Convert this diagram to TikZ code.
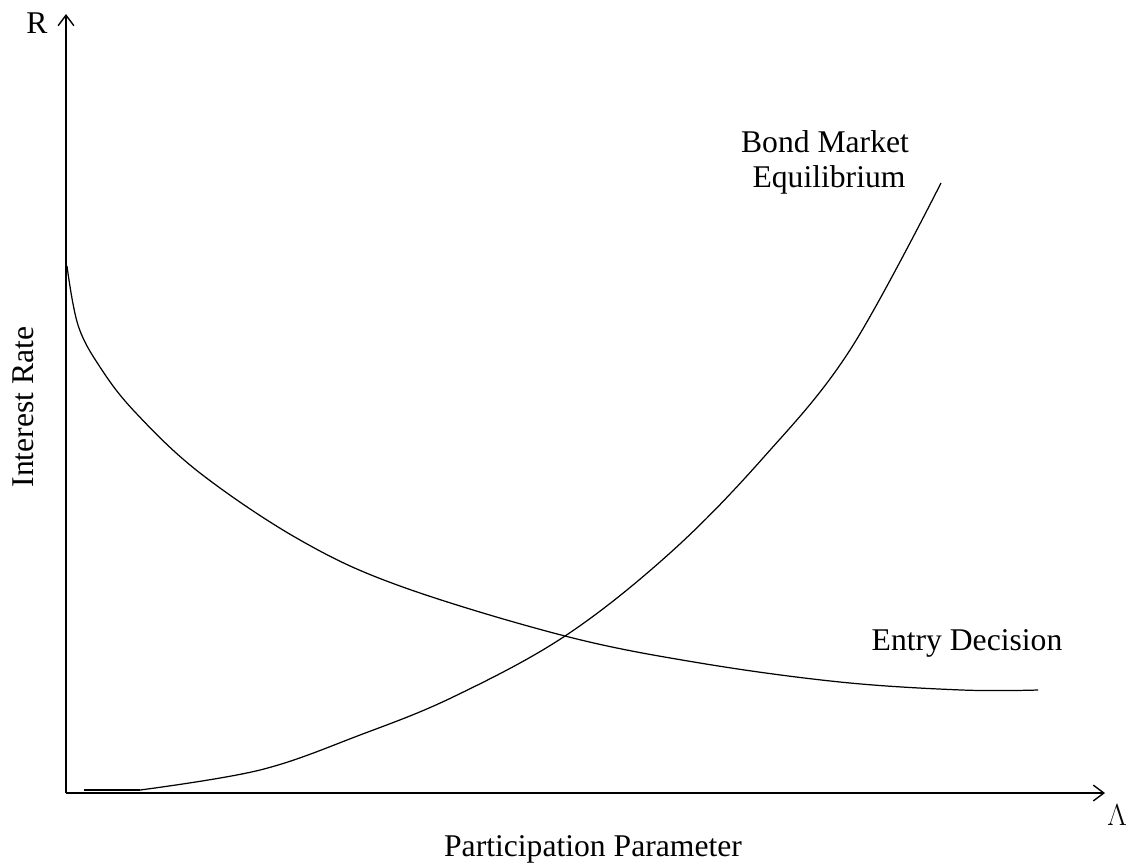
\documentclass[tikz,border=0pt]{standalone}
\usepackage{fontspec}
\setmainfont{Liberation Serif}
\usetikzlibrary{arrows.meta}
\newcommand{\LabelSize}{\fontsize{18}{21}\selectfont}

\begin{document}
\begin{tikzpicture}[x=0.02cm,y=-0.02cm,
  axis/.style={draw, line width=0.8pt, -{Straight Barb[length=6pt,width=9pt]}},
  curve/.style={draw, line width=0.7pt},
  lab/.style={font=\LabelSize, inner sep=0pt}]

\useasboundingbox (0,0) rectangle (1131,867);

\coordinate (O) at (66,793);
\coordinate (Ytop) at (66,14);
\coordinate (Xend) at (1105,793);

\draw [axis] (O) -- (Ytop);
\draw [axis] (O) -- (Xend);

\node [lab] (R) at (37,23) {R};
\node [lab] (L) at (1117,815) {$\Lambda$};
\node [lab, rotate=90] (ylab) at (23,407) {Interest Rate};
\node [lab] (xlab) at (593,849) {Participation Parameter};

% entry decision curve
\draw [curve] plot [smooth, tension=0.6] coordinates {
  (67,266) (78,325) (100,367) (135,412) (200,473) (300,540)
  (400,586) (565,636) (700,663) (840,682) (962,690) (1038,690)};
\node [lab] (entry) at (967,643) {Entry Decision};

% bond market curve
\draw [curve, line width=1.1pt] (84,790) -- (140,790);
\draw [curve] plot [smooth, tension=0.6] coordinates {
  (140,790) (260,770) (360,735) (453,697) (565,636) (670,553)
  (763,458) (850,350) (941,183)};
\node [lab] (bond1) at (825,142) {Bond Market};
\node [lab] (bond2) at (829,180) {Equilibrium};

\end{tikzpicture}
\end{document}
